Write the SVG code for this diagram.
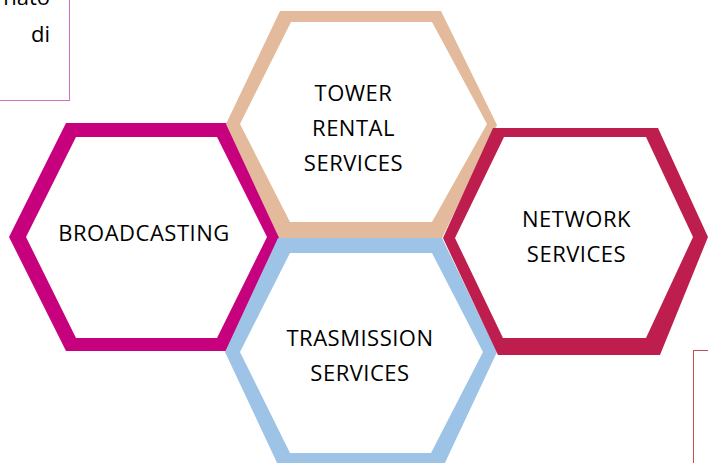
<svg xmlns="http://www.w3.org/2000/svg" width="708" height="463" viewBox="0 0 708 463">
<style>
.lbl{font-family:"Open Sans","Noto Sans","Liberation Sans",sans-serif;font-size:22px;letter-spacing:0.5px;fill:#000;text-anchor:middle}
.side{font-family:"Open Sans","Noto Sans","Liberation Sans",sans-serif;font-size:22px;fill:#000;text-anchor:end}
.ring{fill-rule:evenodd;stroke:none}
</style>
<rect width="708" height="463" fill="#fff"/>
<g id="note-top-left">
<rect x="-10" y="-10" width="79.5" height="110.5" fill="#fff" stroke="#D070B0" stroke-width="1"/>
<text class="side" x="50" y="5">nato</text>
<text class="side" x="50" y="42">di</text>
</g>
<g id="note-bottom-right">
<rect x="693.5" y="350.5" width="30" height="130" fill="#fff" stroke="#C0504D" stroke-width="1"/>
</g>
<g id="broadcasting">
<path class="ring" fill="#C7007D" d="M9,237 L66,123 L227,123 L280,237 L227,351 L66,351 Z M26,237 L76,137 L217,137 L267,237 L217,338 L76,338 Z"/>
<text class="lbl" x="144" y="241">BROADCASTING</text>
</g>
<g id="tower-rental">
<path class="ring" fill="#E3BA9B" d="M226,124 L280,11 L441,11 L497,125 L441,240 L280,240 Z M240,124 L291,22 L432,22 L487,124 L432,222 L290,222 Z"/>
<text class="lbl" x="353.5" y="101">TOWER</text>
<text class="lbl" x="353.5" y="136">RENTAL</text>
<text class="lbl" x="353.5" y="171">SERVICES</text>
</g>
<g id="trasmission">
<path class="ring" fill="#9DC3E6" d="M225,352 L278,238 L442,238 L497,352 L443,467 L279,467 Z M240,352 L290,253 L432,253 L483,352 L431,453 L290,453 Z"/>
<text class="lbl" x="360" y="346">TRASMISSION</text>
<text class="lbl" x="360" y="381">SERVICES</text>
</g>
<g id="network">
<path class="ring" fill="#BE1E4D" d="M443,238 L493,128 L658,128 L708,237 L660,355 L498,355 Z M455,238 L504,137 L646,137 L693,237 L646,338 L503,338 Z"/>
<text class="lbl" x="576.5" y="227">NETWORK</text>
<text class="lbl" x="576.5" y="262">SERVICES</text>
</g>
<g id="connectors"></g>
</svg>
